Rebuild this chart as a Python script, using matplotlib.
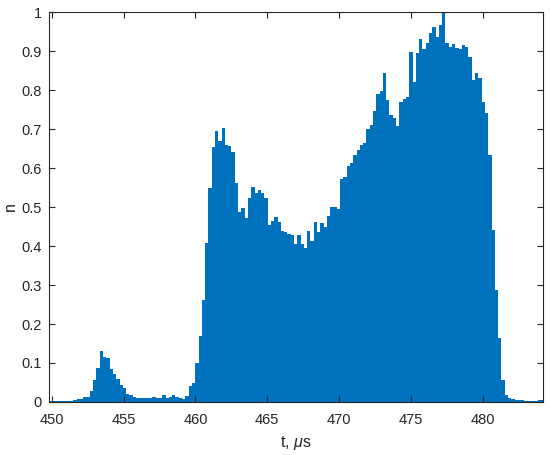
import numpy as np
import matplotlib
matplotlib.use("Agg")
import matplotlib.pyplot as plt

plt.rcParams['font.family'] = ['Liberation Sans', 'DejaVu Sans']
plt.rcParams['mathtext.fontset'] = 'custom'
plt.rcParams['mathtext.rm'] = 'Liberation Sans'
plt.rcParams['mathtext.it'] = 'Liberation Sans:italic'

# histogram bins (microseconds)
t_start = 449.9
bin_width = 0.2293

# normalised counts, one per bin
n = [
    0.002, 0.002, 0.002, 0.002, 0.002, 0.003, 0.003, 0.005, 0.007, 0.008,
    0.012, 0.013, 0.029, 0.056, 0.086, 0.131, 0.116, 0.112, 0.084, 0.073,
    0.059, 0.044, 0.035, 0.021, 0.019, 0.014, 0.011, 0.010, 0.011, 0.010,
    0.011, 0.012, 0.010, 0.011, 0.017, 0.011, 0.012, 0.018, 0.012, 0.009,
    0.008, 0.015, 0.041, 0.049, 0.099, 0.169, 0.262, 0.408, 0.548, 0.655,
    0.696, 0.669, 0.702, 0.658, 0.657, 0.642, 0.562, 0.488, 0.497, 0.473,
    0.522, 0.552, 0.535, 0.544, 0.535, 0.522, 0.454, 0.465, 0.475, 0.462,
    0.438, 0.437, 0.431, 0.429, 0.405, 0.428, 0.404, 0.396, 0.439, 0.414,
    0.462, 0.437, 0.460, 0.450, 0.477, 0.499, 0.499, 0.495, 0.573, 0.577,
    0.605, 0.614, 0.633, 0.645, 0.660, 0.665, 0.700, 0.710, 0.745, 0.790,
    0.798, 0.843, 0.774, 0.736, 0.728, 0.708, 0.770, 0.776, 0.783, 0.898,
    0.821, 0.896, 0.932, 0.905, 0.921, 0.947, 0.961, 0.937, 0.967, 1.000,
    0.920, 0.911, 0.918, 0.907, 0.905, 0.915, 0.911, 0.885, 0.826, 0.844,
    0.830, 0.770, 0.742, 0.633, 0.441, 0.287, 0.163, 0.056, 0.018, 0.009,
    0.007, 0.006, 0.005, 0.004, 0.003, 0.003, 0.003, 0.003, 0.004, 0.004,
]

xticks = [450, 455, 460, 465, 470, 475, 480]
yticks = [0, 0.1, 0.2, 0.3, 0.4, 0.5, 0.6, 0.7, 0.8, 0.9, 1]
ytick_labels = ['0', '0.1', '0.2', '0.3', '0.4', '0.5', '0.6', '0.7', '0.8', '0.9', '1']

edges = t_start + bin_width * np.arange(len(n) + 1)

fig = plt.figure(figsize=(5.5, 4.55), dpi=100)
ax = fig.add_axes([0.089, 0.1165, 0.898, 0.857])

ax.bar(edges[:-1], n, width=np.diff(edges), align='edge',
       color='#0072BD', edgecolor='none', linewidth=0)

ax.set_xlim(449.8, 484.2)
ax.set_ylim(0, 1)
ax.set_xticks(xticks)
ax.set_yticks(yticks)
ax.set_yticklabels(ytick_labels)

gray = '#262626'
for s in ax.spines.values():
    s.set_color(gray)
    s.set_linewidth(0.8)
ax.tick_params(direction='in', top=True, right=True, length=4.5,
               width=0.8, color=gray, labelcolor=gray, labelsize=10.5)
ax.tick_params(axis='x', pad=8)
ax.tick_params(axis='y', pad=5)

ax.set_xlabel('t, $\\mu$s', fontsize=11.5, color=gray, labelpad=5)
ax.set_ylabel('n', fontsize=11.5, color=gray, labelpad=3)

fig.savefig('out.png', dpi=100)
